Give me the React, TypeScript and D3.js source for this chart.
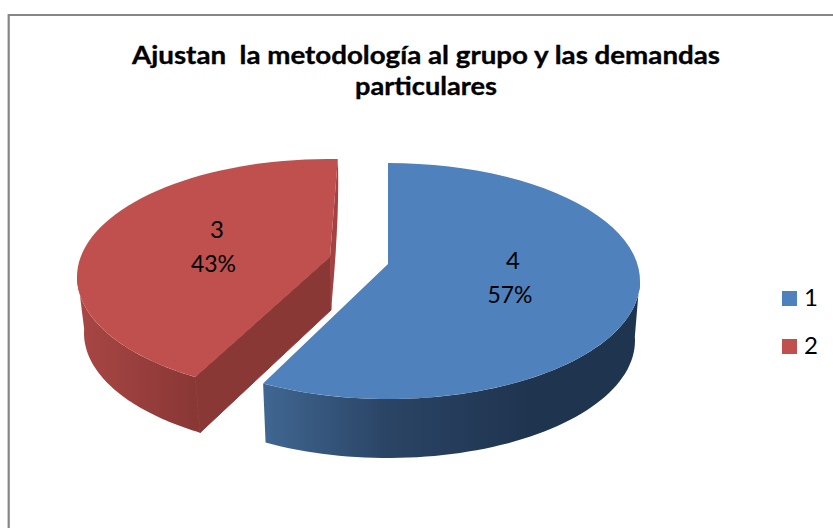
import React from "react";
import * as d3 from "d3";

const titleLines = ["Ajustan  la metodología al grupo y las demandas", "particulares"];
const categories = ["1", "2"];
const values = [4, 3];
const percents = ["57%", "43%"];
const colors = ["#4f81bd", "#c0504d"];
// perspective correction (degrees) of each slice's start/end as Excel's 3D view draws it
const skewStart = [0, 6.3];
const skewEnd = [4, 2];

const W = 833, H = 528;
const centers = [{ x: 388, y: 281 }, { x: 329, y: 277 }];
const apexes = [{ x: 388, y: 264 }, { x: 330, y: 257 }];
const topR = { x: 252, y: 118 };
const botR = { x: 247, y: 117.5 };
const depths = [59.5, 56];
const labelPos = [{ x: 513, y: 269, x2: 510, y2: 302.5 }, { x: 217, y: 238, x2: 213.5, y2: 272 }];

const pie = d3.pie<number>().sort(null).startAngle(0).endAngle(2 * Math.PI);
const arcs = pie(values);
const deg = Math.PI / 180;

const rim = (c: { x: number; y: number }, r: { x: number; y: number }, a: number, b: number, dx = 0, dy = 0) =>
  d3.range(0, 61).map((i) => {
    const t = a + ((b - a) * i) / 60;
    return [c.x + dx + r.x * Math.sin(t), c.y + dy - r.y * Math.cos(t)] as [number, number];
  });
const line = d3.line();

export default function App() {
  const a0 = arcs[0], a1 = arcs[1];
  const bStart = a0.startAngle + skewStart[0] * deg, bEnd = a0.endAngle + skewEnd[0] * deg;
  const rStart = a1.startAngle + skewStart[1] * deg, rEnd = a1.endAngle + skewEnd[1] * deg;

  const blueTop = [[apexes[0].x, apexes[0].y] as [number, number]].concat(rim(centers[0], topR, bStart, bEnd));
  const redTop = [[apexes[1].x, apexes[1].y] as [number, number]].concat(rim(centers[1], topR, rStart, rEnd));

  const blueSide = rim(centers[0], topR, 88 * deg, bEnd).concat(rim(centers[0], botR, 88 * deg, bEnd, 0, depths[0]).reverse());
  const redSide = rim(centers[1], topR, rStart, 272 * deg).concat(rim(centers[1], botR, rStart, 272 * deg, 2, depths[1]).reverse());

  const rimStart = rim(centers[1], topR, rStart, rStart)[0];
  const rimStartBot = rim(centers[1], botR, rStart, rStart, 2, depths[1])[0];
  const rimEnd = rim(centers[1], topR, rEnd, rEnd)[0];
  const wall: [number, number][] = [[apexes[1].x, apexes[1].y], rimStart, rimStartBot, [apexes[1].x + 1, apexes[1].y + 53]];

  return (
    <svg width={W} height={H} style={{ position: "absolute", left: 0, top: 0, background: "#fff" }}>
      <defs>
        <linearGradient id="blueSideG" gradientUnits="userSpaceOnUse" x1={263} x2={530} y1={0} y2={0}>
          <stop offset="0" stopColor="#406792" />
          <stop offset="0.45" stopColor="#2b4566" />
          <stop offset="1" stopColor="#1f344f" />
        </linearGradient>
        <linearGradient id="redSideG" gradientUnits="userSpaceOnUse" x1={80} x2={192} y1={0} y2={0}>
          <stop offset="0" stopColor="#a84644" />
          <stop offset="1" stopColor="#8a3836" />
        </linearGradient>
      </defs>
      <path d="M8.7 528 V15 H833" fill="none" stroke="#868686" strokeWidth={2.2} />

      <g fontFamily="Lato, sans-serif" fontWeight={700} fontSize={24} fill="#000" stroke="#000" strokeWidth={0.35}>
        <text x={132} y={63.5} textLength={588} lengthAdjust="spacingAndGlyphs" style={{ whiteSpace: "pre" }}>{titleLines[0]}</text>
        <text x={355} y={95} textLength={142} lengthAdjust="spacingAndGlyphs">{titleLines[1]}</text>
      </g>

      <path d={line(redSide)!} fill="url(#redSideG)" />
      <path d={line(wall)! + "Z"} fill="#8a3836" stroke="#8a3836" strokeWidth={1} strokeLinejoin="round" />
      <path d={`M${rimEnd[0]} ${rimEnd[1]} Q340 215 ${apexes[1].x + 1} ${apexes[1].y + 53} L${apexes[1].x} ${apexes[1].y}Z`} fill="#a34240" />
      <path d={line(redTop)! + "Z"} fill={colors[1]} />

      <path d={line(blueSide)!} fill="url(#blueSideG)" />
      <path d={line(blueTop)! + "Z"} fill={colors[0]} />

      <g fontFamily="Lato, sans-serif" fontSize={24} textAnchor="middle" fill="#000">
        {values.map((v, i) => (
          <g key={i}>
            <text x={labelPos[i].x} y={labelPos[i].y}>{v}</text>
            <text x={labelPos[i].x2} y={labelPos[i].y2} textLength={45} lengthAdjust="spacingAndGlyphs">{percents[i]}</text>
          </g>
        ))}
      </g>

      {categories.map((c, i) => (
        <g key={c}>
          <rect x={782} y={291 + i * 48} width={15} height={15} fill={colors[i]} />
          <text x={804} y={306 + i * 48} fontFamily="Lato, sans-serif" fontSize={24} fill="#000">{c}</text>
        </g>
      ))}
    </svg>
  );
}
